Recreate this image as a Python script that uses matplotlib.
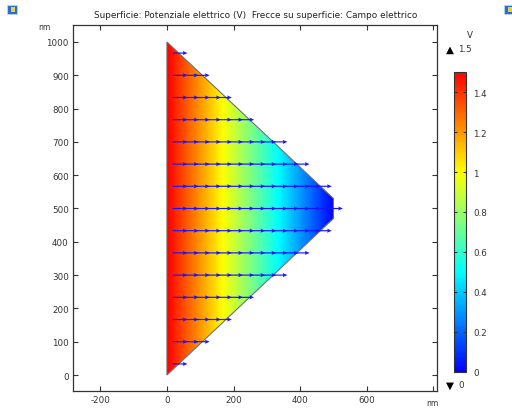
import numpy as np
import matplotlib
matplotlib.use('Agg')
import matplotlib.pyplot as plt
from matplotlib.colors import LinearSegmentedColormap
from matplotlib.patches import Polygon, Rectangle
from matplotlib.path import Path

# geometry (nm) and potential
shape_x = [0, 500, 500, 0]
shape_y = [0, 470, 530, 1000]
pot_x = [0, 500]
pot_v = [1.5, 0.0]

# arrow grid and arrow length (nm)
arrow_cols = [16.7, 50.0, 83.3, 116.7, 150.0, 183.3, 216.7, 250.0,
              283.3, 316.7, 350.0, 383.3, 416.7, 450.0, 483.3]
arrow_rows = [33.3, 100.0, 166.7, 233.3, 300.0, 366.7, 433.3, 500.0,
              566.7, 633.3, 700.0, 766.7, 833.3, 900.0, 966.7]
arrow_len = 45.0

xticks = [-200, 0, 200, 400, 600, 800]
xlabels = ['-200', '0', '200', '400', '600', '']
yticks = [0, 100, 200, 300, 400, 500, 600, 700, 800, 900, 1000]
cticks = [0, 0.2, 0.4, 0.6, 0.8, 1.0, 1.2, 1.4]
clabels = ['0', '0.2', '0.4', '0.6', '0.8', '1', '1.2', '1.4']

title = 'Superficie: Potenziale elettrico (V)  Frecce su superficie: Campo elettrico'

cmap = LinearSegmentedColormap.from_list(
    'rainbow_c', [(0, '#0000ff'), (1/3, '#00ffff'), (2/3, '#ffff00'), (1, '#ff0000')])

fig = plt.figure(figsize=(5.12, 4.1), dpi=100)
ax = fig.add_axes([73/512, 1 - 392/410, 364/512, 366/410])
ax.set_xlim(-282, 811)
ax.set_ylim(-48, 1051)

# colored surface clipped to geometry
gx = np.linspace(0, 500, 400)
gy = np.linspace(0, 1000, 2)
vals = np.interp(gx, pot_x, pot_v)
img = np.tile(vals, (len(gy), 1))
im = ax.imshow(img, extent=[0, 500, 0, 1000], origin='lower', cmap=cmap,
               vmin=0, vmax=1.5, aspect='auto', interpolation='bilinear', zorder=1)
poly = Polygon(list(zip(shape_x, shape_y)), closed=True, facecolor='none',
               edgecolor='#707070', lw=0.8, zorder=2)
ax.add_patch(poly)
im.set_clip_path(poly)

# arrows whose base lies inside the geometry
X, Y = np.meshgrid(arrow_cols, arrow_rows)
pts = np.column_stack([X.ravel(), Y.ravel()])
inside = Path(list(zip(shape_x, shape_y))).contains_points(pts)
pts = pts[inside]
ax.quiver(pts[:, 0], pts[:, 1], np.full(len(pts), arrow_len), np.zeros(len(pts)),
          angles='xy', scale_units='xy', scale=1, color='#1414ff',
          width=0.0032, headwidth=3.5, headlength=4, headaxislength=3.5, zorder=3)

ax.set_xticks(xticks)
ax.set_xticklabels(xlabels)
ax.set_yticks(yticks)
ax.tick_params(direction='in', length=3.5, width=0.8, color='#333333',
               labelsize=6.3, labelcolor='#333333', top=True, right=True, pad=3)
for s in ax.spines.values():
    s.set_color('#333333')
    s.set_linewidth(0.9)

fig.text(44/512, 1 - 27/410, 'nm', fontsize=5.5, color='#333333', ha='center', va='center')
fig.text(432/512, 1 - 404/410, 'nm', fontsize=5.5, color='#333333', ha='center', va='center')
fig.text(256/512, 1 - 15/410, title, fontsize=6.4, color='#222222', ha='center', va='center')

# colorbar
cax = fig.add_axes([454/512, 1 - 373/410, 12/512, 300/410])
cb = fig.colorbar(im, cax=cax, ticks=cticks)
cb.ax.set_yticklabels(clabels)
cb.outline.set_edgecolor('#333333')
cb.outline.set_linewidth(0.8)
cax.tick_params(direction='in', length=2.5, width=0.8, color='#333333', left=True,
                labelsize=6.3, labelcolor='#333333', pad=5)
fig.text(470/512, 1 - 36/410, 'V', fontsize=6.3, color='#333333', ha='center', va='center')
fig.text(450/512, 1 - 50/410, '\u25b2', fontsize=7.5, color='black', ha='center', va='center')
fig.text(458/512, 1 - 50/410, '1.5', fontsize=6.3, color='#333333', ha='left', va='center')
fig.text(450/512, 1 - 386/410, '\u25bc', fontsize=7.5, color='black', ha='center', va='center')
fig.text(458/512, 1 - 386/410, '0', fontsize=6.3, color='#333333', ha='left', va='center')

# small window icons in the corners
for x0 in (7, 504):
    fig.patches.append(Rectangle((x0/512, 1 - 15/410), 10/512, 9/410, transform=fig.transFigure,
                                 facecolor='#2a6fc9', edgecolor='#d0d8e8', lw=0.5))
    fig.patches.append(Rectangle(((x0 + 4)/512, 1 - 13/410), 4/512, 5/410, transform=fig.transFigure,
                                 facecolor='#e8d040', edgecolor='none'))

fig.savefig('out.png', dpi=100)
